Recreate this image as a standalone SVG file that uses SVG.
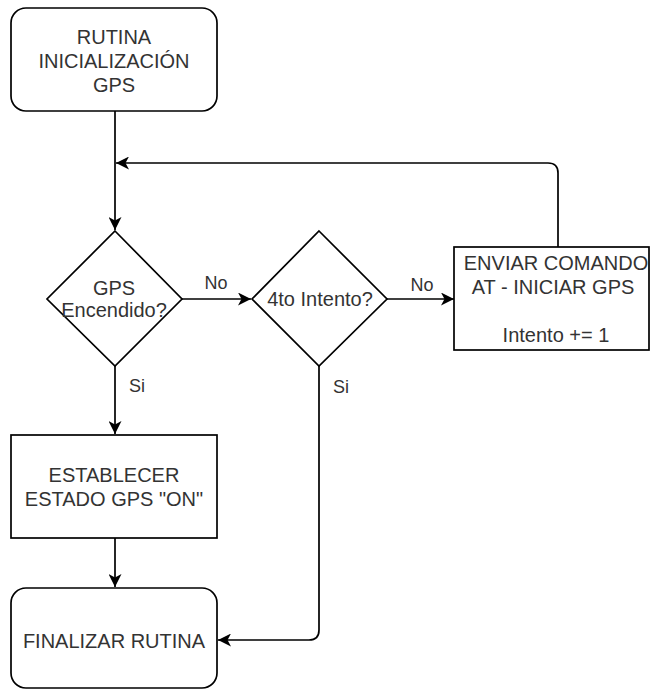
<svg xmlns="http://www.w3.org/2000/svg" width="650" height="689" viewBox="0 0 650 689">
  <style>
    .shape { fill: #ffffff; stroke: #000000; stroke-width: 1.7; }
    .txt { font-family: "Liberation Sans", Arial, sans-serif; font-size: 20px; fill: #333333; text-anchor: middle; dominant-baseline: central; }
    .lbl { font-family: "Liberation Sans", Arial, sans-serif; font-size: 18px; fill: #333333; text-anchor: middle; dominant-baseline: central; }
    .edge { fill: none; stroke: #000000; stroke-width: 1.7; marker-end: url(#arrow); }
  </style>
  <defs>
    <marker id="arrow" markerUnits="userSpaceOnUse" markerWidth="14" markerHeight="13" refX="13" refY="6.5" orient="auto">
      <path d="M0,0 L13,6.5 L0,13 L3.5,6.5 Z" fill="#000000"/>
    </marker>
  </defs>

  <g id="connectors">
    <path class="edge" d="M115,111 L115,230"/>
    <path class="edge" d="M182,299 L251,299"/>
    <path class="edge" d="M387,299 L454,299"/>
    <path class="edge" d="M558,247 L558,173 Q558,163 548,163 L116,163"/>
    <path class="edge" d="M115,366 L115,434"/>
    <path class="edge" d="M115,538 L115,587"/>
    <path class="edge" d="M319,366 L319,630 Q319,640 309,640 L218,640"/>
    <text class="lbl" x="216" y="283">No</text>
    <text class="lbl" x="422" y="285">No</text>
    <text class="lbl" x="137" y="386">Si</text>
    <text class="lbl" x="341" y="387">Si</text>
  </g>

  <g id="start">
    <rect class="shape" x="11" y="8" width="206" height="103" rx="15" ry="15"/>
    <text class="txt" x="114" y="37">RUTINA</text>
    <text class="txt" x="114" y="61">INICIALIZACIÓN</text>
    <text class="txt" x="114" y="85">GPS</text>
  </g>

  <g id="gps-on">
    <path class="shape" d="M115,231 L182,299 L115,366 L47,299 Z"/>
    <text class="txt" x="114" y="288">GPS</text>
    <text class="txt" x="114" y="310">Encendido?</text>
  </g>

  <g id="attempt">
    <path class="shape" d="M319,231 L387,299 L319,366 L252,299 Z"/>
    <text class="txt" x="320" y="299">4to Intento?</text>
  </g>

  <g id="send-cmd">
    <rect class="shape" x="454" y="247" width="195" height="103"/>
    <text class="txt" x="556" y="263">ENVIAR COMANDO</text>
    <text class="txt" x="553" y="287">AT - INICIAR GPS</text>
    <text class="txt" x="556" y="335">Intento += 1</text>
  </g>

  <g id="set-state">
    <rect class="shape" x="11" y="435" width="206" height="103"/>
    <text class="txt" x="114" y="475">ESTABLECER</text>
    <text class="txt" x="114" y="499">ESTADO GPS "ON"</text>
  </g>

  <g id="end">
    <rect class="shape" x="11" y="588" width="206" height="100" rx="15" ry="15"/>
    <text class="txt" x="114" y="641">FINALIZAR RUTINA</text>
  </g>
</svg>
